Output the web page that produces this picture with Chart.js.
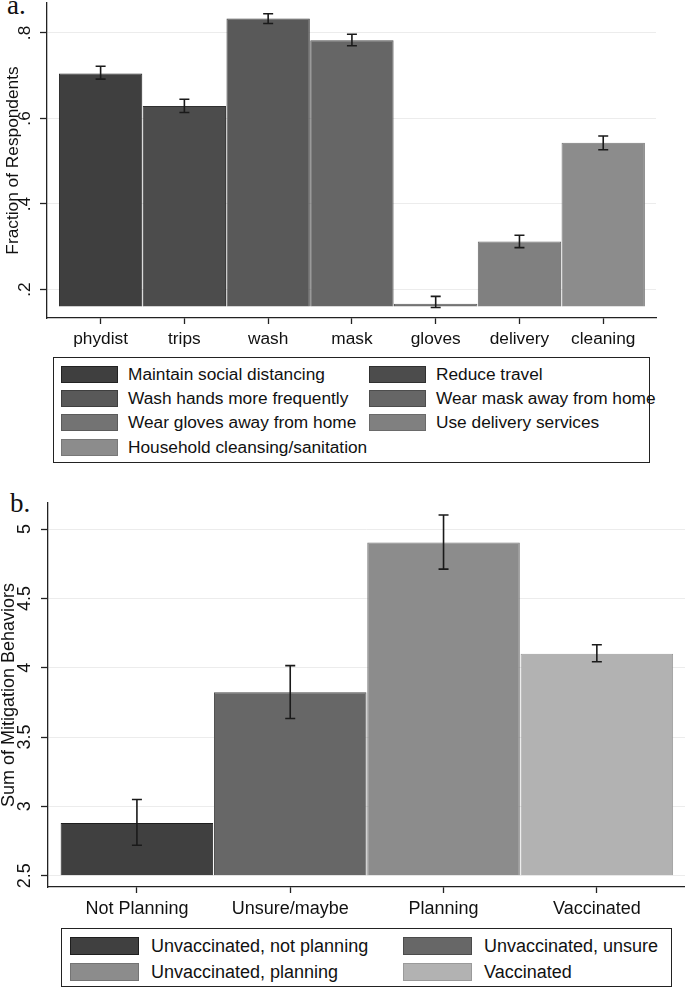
<!DOCTYPE html>
<html>
<head>
<meta charset="utf-8">
<script src="https://cdn.jsdelivr.net/npm/chart.js@4.4.1/dist/chart.umd.min.js"></script>
<style>
  html, body { margin: 0; padding: 0; background: #fff; }
  body { width: 685px; height: 988px; position: relative; overflow: hidden;
         font-family: "Liberation Sans", Arial, sans-serif; color: #111; }
  .panel { position: absolute; left: 0; width: 685px; }
  .tag { position: absolute; font-family: "Liberation Serif", "Times New Roman", serif;
         font-size: 27px; line-height: 1; color: #111; }
  .legend { position: absolute; box-sizing: border-box; border: 1px solid #222;
            display: grid; align-items: center; align-content: start; }
  .legend .sw { box-sizing: border-box; border: 1px solid; }
  .legend .lb { white-space: nowrap; }
</style>
</head>
<body>
<div class="tag" style="left:7px; top:-8px">a.</div>
<div class="panel" style="top:0; height:350px"><canvas id="partA"></canvas></div>
<div class="legend" id="legendA"
     style="left:53px; top:357px; width:597px; height:106px; padding:4px 0 0 7px;
            grid-template-columns:57px 251px 57px auto; grid-auto-rows:24.3px; font-size:17.3px"></div>

<div class="tag" style="left:10px; top:490px">b.</div>
<div class="panel" style="top:480px; height:440px"><canvas id="partB"></canvas></div>
<div class="legend" id="legendB"
     style="left:61px; top:928px; width:611px; height:59px; padding:4px 0 0 8px;
            grid-template-columns:69px 264px 69px auto; grid-auto-rows:26px; font-size:18px"></div>

<script>
// panel a: fraction of respondents per behaviour
const partACategories = ["phydist", "trips", "wash", "mask", "gloves", "delivery", "cleaning"];
const partALegend = ["Maintain social distancing", "Reduce travel", "Wash hands more frequently",
  "Wear mask away from home", "Wear gloves away from home", "Use delivery services",
  "Household cleansing/sanitation"];
const partAValues = [0.705, 0.629, 0.834, 0.783, 0.167, 0.3125, 0.543];
const partALow = [0.692, 0.614, 0.822, 0.770, 0.158, 0.298, 0.527];
const partAHigh = [0.722, 0.645, 0.845, 0.797, 0.184, 0.327, 0.559];
const partATicks = [0.2, 0.4, 0.6, 0.8];
const partAColors = ["#3f3f3f", "#4c4c4c", "#595959", "#666666", "#737373", "#808080", "#8c8c8c"];
const partAEdges = ["#222222", "#303030", "#3f3f3f", "#4d4d4d", "#5b5b5b", "#6a6a6a", "#787878"];

// panel b: sum of mitigation behaviours by vaccination status
const partBCategories = ["Not Planning", "Unsure/maybe", "Planning", "Vaccinated"];
const partBLegend = ["Unvaccinated, not planning", "Unvaccinated, unsure",
  "Unvaccinated, planning", "Vaccinated"];
const partBValues = [2.880, 3.822, 4.903, 4.101];
const partBLow = [2.719, 3.634, 4.711, 4.043];
const partBHigh = [3.049, 4.015, 5.101, 4.166];
const partBTicks = [2.5, 3, 3.5, 4, 4.5, 5];
const partBColors = ["#404040", "#676767", "#8c8c8c", "#b2b2b2"];
const partBEdges = ["#1e1e1e", "#4b4b4b", "#747474", "#9a9a9a"];

Chart.defaults.font.family = "'Liberation Sans', Arial, sans-serif";
Chart.defaults.color = "#111";

const errorBars = {
  id: "errorBars",
  afterDatasetsDraw(chart, args, opts) {
    const ctx = chart.ctx;
    const y = chart.scales.y;
    const bars = chart.getDatasetMeta(0).data;
    ctx.save();
    ctx.strokeStyle = "#1a1a1a";
    ctx.lineWidth = 1.6;
    bars.forEach((bar, i) => {
      const lo = y.getPixelForValue(opts.low[i]);
      const hi = y.getPixelForValue(opts.high[i]);
      ctx.beginPath();
      ctx.moveTo(bar.x, lo);
      ctx.lineTo(bar.x, hi);
      ctx.moveTo(bar.x - 5, lo);
      ctx.lineTo(bar.x + 5, lo);
      ctx.moveTo(bar.x - 5, hi);
      ctx.lineTo(bar.x + 5, hi);
      ctx.stroke();
    });
    ctx.restore();
  }
};

// keep the plot box where the reference puts it, whatever the labels ask for
function noLabelPadding(s) {
  s.paddingTop = 0;
  s.paddingBottom = 0;
  s.paddingLeft = 0;
  s.paddingRight = 0;
}

function makeChart(id, c) {
  return new Chart(document.getElementById(id), {
    type: "bar",
    data: {
      datasets: [{
        data: c.values.map((v, i) => ({ x: i, y: v })),
        base: c.base,
        backgroundColor: c.colors,
        borderColor: c.edges,
        borderWidth: 1,
        barPercentage: 0.995,
        categoryPercentage: 1
      }]
    },
    options: {
      responsive: true,
      maintainAspectRatio: false,
      animation: false,
      layout: { padding: c.padding },
      plugins: {
        legend: { display: false },
        tooltip: { enabled: false },
        errorBars: { low: c.low, high: c.high }
      },
      scales: {
        x: {
          type: "linear",
          offset: false,
          min: c.xMin,
          max: c.xMax,
          afterBuildTicks: s => { s.ticks = c.categories.map((_, i) => ({ value: i })); },
          afterFit: s => { s.height = c.xHeight; noLabelPadding(s); },
          grid: { offset: false, drawOnChartArea: false, drawTicks: true, tickLength: 6,
                  tickColor: "#222", tickWidth: 1.3 },
          border: { color: "#222", width: 1.3 },
          ticks: { callback: v => c.categories[v], font: { size: c.fontSize },
                   padding: c.xPad, maxRotation: 0, autoSkip: false, color: "#111" }
        },
        y: {
          type: "linear",
          beginAtZero: false,
          min: c.yMin,
          max: c.yMax,
          afterBuildTicks: s => { s.ticks = c.ticks.map(v => ({ value: v })); },
          afterFit: s => { s.width = c.yWidth; noLabelPadding(s); },
          grid: { color: "#ececec", lineWidth: 1, drawTicks: true, tickLength: 7,
                  tickColor: "#222", tickWidth: 1.3 },
          border: { color: "#222", width: 1.3 },
          ticks: { callback: c.format, font: { size: c.fontSize }, minRotation: 90, maxRotation: 90,
                   crossAlign: "center", padding: c.yPad, color: "#111" },
          title: { display: true, text: c.title, font: { size: c.fontSize, lineHeight: 1 },
                   padding: { top: c.titlePad, bottom: 0 }, color: "#111" }
        }
      }
    },
    plugins: [errorBars]
  });
}

function makeLegend(id, labels, colors, edges, swatchH, gap) {
  const box = document.getElementById(id);
  labels.forEach((text, i) => {
    const sw = document.createElement("div");
    sw.className = "sw";
    sw.style.height = swatchH + "px";
    sw.style.background = colors[i];
    sw.style.borderColor = edges[i];
    const lb = document.createElement("div");
    lb.className = "lb";
    lb.style.marginLeft = gap + "px";
    lb.textContent = text;
    box.appendChild(sw);
    box.appendChild(lb);
  });
}

makeChart("partA", {
  categories: partACategories, values: partAValues, low: partALow, high: partAHigh,
  colors: partAColors, edges: partAEdges, ticks: partATicks, base: 0.160,
  xMin: -0.64, xMax: 6.63, yMin: 0.1334, yMax: 0.870,
  padding: { left: 0, top: 3, right: 29, bottom: 0 },
  xHeight: 32, yWidth: 47, fontSize: 17.3, xPad: 5, yPad: 8, titlePad: 4.5,
  title: "Fraction of Respondents",
  format: v => v.toFixed(1).replace(/^0/, "")
});

makeChart("partB", {
  categories: partBCategories, values: partBValues, low: partBLow, high: partBHigh,
  colors: partBColors, edges: partBEdges, ticks: partBTicks, base: 2.5,
  xMin: -0.58, xMax: 3.575, yMin: 2.418, yMax: 5.188,
  padding: { left: 0, top: 23, right: 0, bottom: 0 },
  xHeight: 33, yWidth: 48, fontSize: 18, xPad: 5, yPad: 3, titlePad: 0,
  title: "Sum of Mitigation Behaviors",
  format: v => String(v)
});

makeLegend("legendA", partALegend, partAColors, partAEdges, 17, 10);
makeLegend("legendB", partBLegend, partBColors, partBEdges, 18, 12);
</script>
</body>
</html>
